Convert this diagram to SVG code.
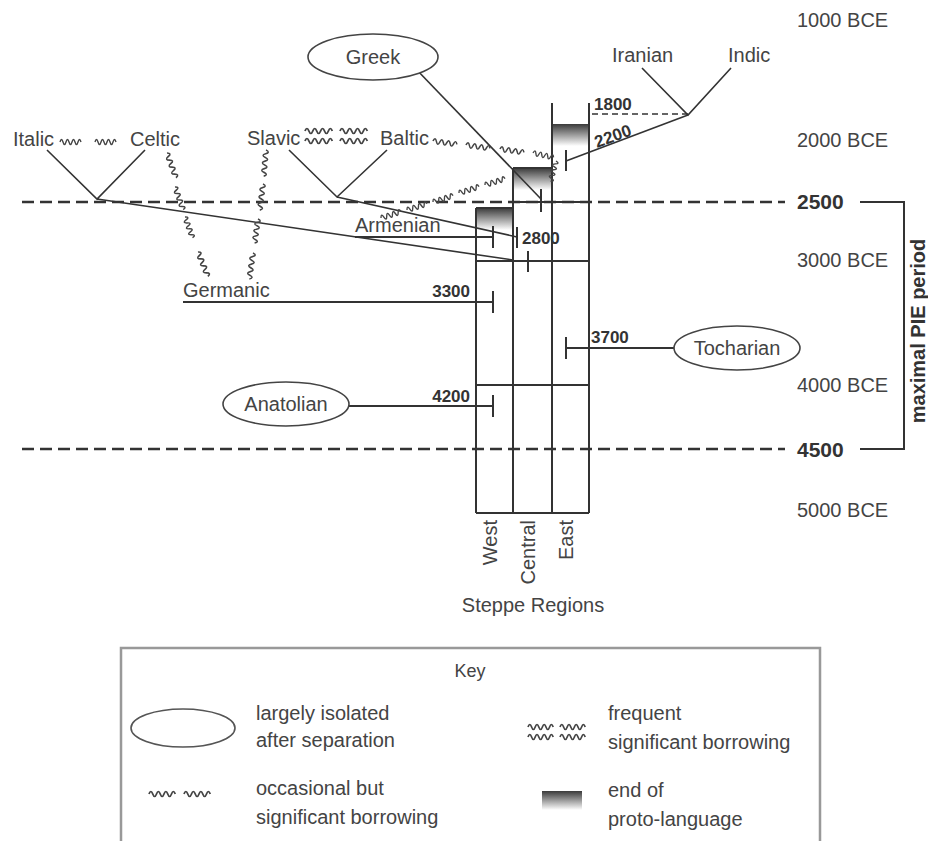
<svg xmlns="http://www.w3.org/2000/svg" width="928" height="841" viewBox="0 0 928 841">
<defs>
<linearGradient id="g" x1="0" y1="0" x2="0" y2="1"><stop offset="0" stop-color="#3a3a3a"/><stop offset="1" stop-color="#ffffff"/></linearGradient>
<path id="wv" d="M0,0 q1.5,-5 3,0 t3,0 t3,0 t3,0 t3,0 t3,0 t3,0"/>
</defs>
<style>
text{font-family:"Liberation Sans",Arial,sans-serif;fill:#444}
.lbl{font-size:20px}
.num{font-size:17px;font-weight:bold;fill:#333}
.big{font-size:21px;font-weight:bold;fill:#333}
.ln{stroke:#333;stroke-width:2;fill:none}
.thin{stroke:#333;stroke-width:1.6;fill:none}
.dash{stroke:#333;stroke-width:2.5;stroke-dasharray:12 6;fill:none}
.dash2{stroke:#333;stroke-width:1.5;stroke-dasharray:6 4;fill:none}
.wave{stroke:#444;stroke-width:1.4;fill:none}
.ell{fill:#fff;stroke:#444;stroke-width:1.6}
.keyb{stroke:#999;stroke-width:2.5;fill:none}
</style>
<rect width="928" height="841" fill="#fff"/>

<g id="timescale">
<text class="lbl" x="797" y="27">1000 BCE</text>
<text class="lbl" x="797" y="147">2000 BCE</text>
<text class="big" x="797" y="209">2500</text>
<text class="lbl" x="797" y="267">3000 BCE</text>
<text class="lbl" x="797" y="392">4000 BCE</text>
<text class="big" x="797" y="457">4500</text>
<text class="lbl" x="797" y="517">5000 BCE</text>
<path class="dash" d="M22,202H785 M22,449H785"/>
<path class="ln" d="M860,202H904V449H860"/>
<text class="big" style="font-size:20px" transform="translate(925,331) rotate(-90)" text-anchor="middle">maximal PIE period</text>
</g>

<g id="steppe-columns">
<rect x="552" y="124" width="37" height="22" fill="url(#g)"/>
<rect x="513" y="168" width="38" height="22" fill="url(#g)"/>
<rect x="476" y="208" width="37" height="22" fill="url(#g)"/>
<path class="ln" d="M552,103V513 M589,103V513 M513,168V513 M476,208V513 M513,168H552 M476,208H513 M513,202H589 M476,261H589 M476,385H589 M476,513H589"/>
<text class="lbl" transform="translate(497,520) rotate(-90)" text-anchor="end">West</text>
<text class="lbl" transform="translate(535,520) rotate(-90)" text-anchor="end">Central</text>
<text class="lbl" transform="translate(573,520) rotate(-90)" text-anchor="end">East</text>
<text class="lbl" x="533" y="612" text-anchor="middle">Steppe Regions</text>
</g>

<g id="connectors">
<path class="thin" d="M415,68L541,199"/>
<path class="ln" d="M541,189V212"/>
<path class="thin" d="M642,68L688,115L731,68"/>
<path class="dash2" d="M592,114H688"/>
<path class="thin" d="M688,115L566,161"/>
<path class="ln" d="M566,150V171"/>
<path class="thin" d="M47,150L97,199L145,150 M97,199L513,260"/>
<path class="ln" d="M528,251V272"/>
<path class="thin" d="M289,150L337,197L387,150 M337,197L517,237"/>
<path class="ln" d="M517,227V248"/>
<path class="ln" d="M355,237H493 M493,226V248"/>
<path class="ln" d="M183,302H493 M493,291V313"/>
<path class="ln" d="M566,348H680 M566,337V359"/>
<path class="ln" d="M345,406H493 M493,395V417"/>
</g>

<g id="borrowing">
<use href="#wv" class="wave" x="60" y="142"/>
<use href="#wv" class="wave" x="95" y="142"/>
<use href="#wv" class="wave" transform="translate(305,131) scale(1.3,1)"/>
<use href="#wv" class="wave" transform="translate(305,141) scale(1.3,1)"/>
<use href="#wv" class="wave" transform="translate(340,131) scale(1.3,1)"/>
<use href="#wv" class="wave" transform="translate(340,141) scale(1.3,1)"/>
<use href="#wv" class="wave" transform="translate(433,141) rotate(8) scale(1.15,1)"/>
<use href="#wv" class="wave" transform="translate(466,145) rotate(8) scale(1.15,1)"/>
<use href="#wv" class="wave" transform="translate(500,149) rotate(8) scale(1.15,1)"/>
<use href="#wv" class="wave" transform="translate(533,153) rotate(12)"/>
<use href="#wv" class="wave" transform="translate(556,161) rotate(105)"/>
<use href="#wv" class="wave" transform="translate(381,218) rotate(-17.5)"/>
<use href="#wv" class="wave" transform="translate(407,210) rotate(-17.5)"/>
<use href="#wv" class="wave" transform="translate(433,202) rotate(-17.5)"/>
<use href="#wv" class="wave" transform="translate(459,193) rotate(-17.5)"/>
<use href="#wv" class="wave" transform="translate(485,185) rotate(-17.5)"/>
<use href="#wv" class="wave" transform="translate(167,153) rotate(70) scale(1.25,1)"/>
<use href="#wv" class="wave" transform="translate(175,187) rotate(70) scale(1.15,1)"/>
<use href="#wv" class="wave" transform="translate(185,217) rotate(70) scale(1.05,1)"/>
<use href="#wv" class="wave" transform="translate(198,252) rotate(68) scale(1.25,1)"/>
<use href="#wv" class="wave" transform="translate(266,150) rotate(95) scale(1.25,1)"/>
<use href="#wv" class="wave" transform="translate(263,184) rotate(97) scale(1.25,1)"/>
<use href="#wv" class="wave" transform="translate(258,219) rotate(98) scale(1.15,1)"/>
<use href="#wv" class="wave" transform="translate(253,253) rotate(98) scale(1.25,1)"/>
</g>

<g id="node-greek">
<ellipse class="ell" cx="373" cy="57" rx="65" ry="23"/>
<text class="lbl" x="373" y="64" text-anchor="middle">Greek</text>
</g>
<g id="node-iranian"><text class="lbl" x="612" y="62">Iranian</text></g>
<g id="node-indic"><text class="lbl" x="728" y="62">Indic</text></g>
<g id="node-italic"><text class="lbl" x="13" y="146">Italic</text></g>
<g id="node-celtic"><text class="lbl" x="130" y="146">Celtic</text></g>
<g id="node-slavic"><text class="lbl" x="247" y="145">Slavic</text></g>
<g id="node-baltic"><text class="lbl" x="380" y="145">Baltic</text></g>
<g id="node-armenian"><text class="lbl" x="355" y="232">Armenian</text></g>
<g id="node-germanic"><text class="lbl" x="183" y="297">Germanic</text></g>
<g id="node-tocharian">
<ellipse class="ell" cx="737" cy="348" rx="63" ry="22"/>
<text class="lbl" x="737" y="355" text-anchor="middle">Tocharian</text>
</g>
<g id="node-anatolian">
<ellipse class="ell" cx="286" cy="404" rx="63" ry="22"/>
<text class="lbl" x="286" y="411" text-anchor="middle">Anatolian</text>
</g>

<g id="dates">
<text class="num" x="594" y="110">1800</text>
<text class="num" transform="translate(597,148) rotate(-20)">2200</text>
<text class="num" x="522" y="244">2800</text>
<text class="num" x="470" y="297" text-anchor="end">3300</text>
<text class="num" x="591" y="343">3700</text>
<text class="num" x="470" y="402" text-anchor="end">4200</text>
</g>

<g id="key">
<path class="keyb" d="M121,841V648H820V841"/>
<text class="lbl" x="470" y="677" text-anchor="middle" style="font-size:18px">Key</text>
<ellipse cx="183" cy="728" rx="52" ry="19" fill="none" stroke="#555" stroke-width="1.6"/>
<text class="lbl" x="256" y="720">largely isolated</text>
<text class="lbl" x="256" y="747">after separation</text>
<use href="#wv" class="wave" transform="translate(149,794) scale(1.25,1)"/>
<use href="#wv" class="wave" transform="translate(184,794) scale(1.25,1)"/>
<text class="lbl" x="256" y="795">occasional but</text>
<text class="lbl" x="256" y="824">significant borrowing</text>
<use href="#wv" class="wave" transform="translate(528,727) scale(1.2,1)"/>
<use href="#wv" class="wave" transform="translate(560,727) scale(1.2,1)"/>
<use href="#wv" class="wave" transform="translate(528,737) scale(1.2,1)"/>
<use href="#wv" class="wave" transform="translate(560,737) scale(1.2,1)"/>
<text class="lbl" x="608" y="720">frequent</text>
<text class="lbl" x="608" y="749">significant borrowing</text>
<rect x="542" y="791" width="40" height="19" fill="url(#g)"/>
<text class="lbl" x="608" y="797">end of</text>
<text class="lbl" x="608" y="826">proto-language</text>
</g>
</svg>
